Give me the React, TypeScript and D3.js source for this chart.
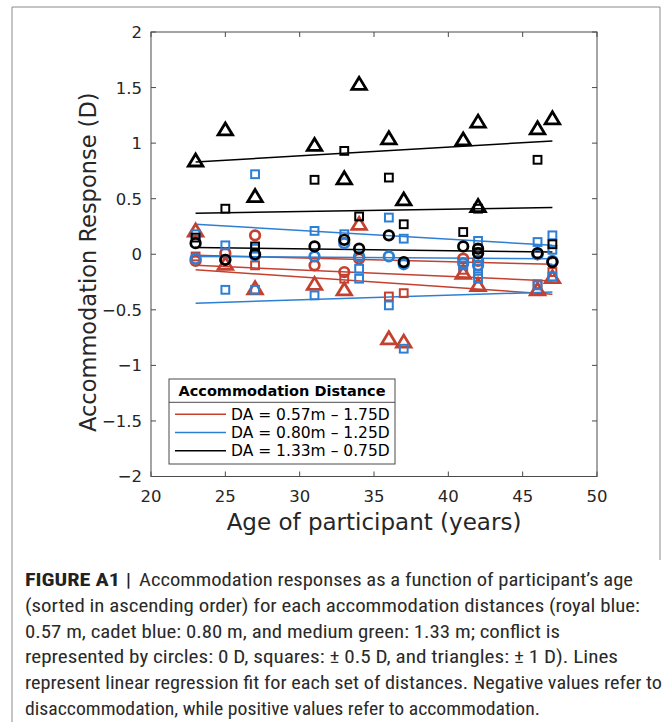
import React from 'react';
import * as d3 from 'd3';

// ---------- data ----------
const xTicks = [20, 25, 30, 35, 40, 45, 50];
const yTicks = [-2, -1.5, -1, -0.5, 0, 0.5, 1, 1.5, 2];

const legendTitle = 'Accommodation Distance';
const distanceLabels = ['DA = 0.57m – 1.75D', 'DA = 0.80m – 1.25D', 'DA = 1.33m – 0.75D'];

// [age, response (D)]
const redCircles: [number, number][] = [
  [23, -0.06], [25, 0.01], [27, 0.17], [31, -0.1], [33, -0.16], [34, -0.04],
  [41, -0.04], [42, -0.06], [46, 0.0], [47, -0.07],
];
const redSquares: [number, number][] = [
  [23, -0.02], [27, -0.1], [33, -0.22], [36, -0.38], [37, -0.35],
  [41, -0.14], [42, -0.18], [46, -0.27], [47, -0.16],
];
const redTriangles: [number, number][] = [
  [23, 0.2], [25, -0.1], [27, -0.32], [31, -0.28], [33, -0.33], [34, 0.26],
  [36, -0.77], [37, -0.8], [41, -0.18], [42, -0.29], [46, -0.33], [47, -0.22],
];

const blueCircles: [number, number][] = [
  [23, -0.04], [25, -0.05], [27, -0.01], [31, -0.02], [33, 0.1], [34, -0.02],
  [36, -0.02], [37, -0.09], [41, -0.08], [42, -0.1], [46, 0.0], [47, -0.06],
];
const blueSquares: [number, number][] = [
  [23, 0.18], [25, 0.08], [25, -0.32], [27, 0.72], [27, 0.05], [27, -0.32],
  [31, 0.21], [31, -0.37], [33, 0.18], [34, -0.13], [34, -0.22],
  [36, 0.33], [36, -0.46], [37, 0.14], [37, -0.85], [41, -0.1],
  [42, 0.12], [42, 0.02], [42, -0.06], [42, -0.13], [42, -0.22],
  [46, 0.11], [46, -0.28], [47, 0.17], [47, 0.04], [47, -0.2],
];

const blackCircles: [number, number][] = [
  [23, 0.1], [25, -0.05], [27, 0.0], [31, 0.07], [33, 0.13], [34, 0.05],
  [36, 0.17], [37, -0.07], [41, 0.07], [42, 0.05], [42, 0.01], [46, 0.01], [47, -0.07],
];
const blackSquares: [number, number][] = [
  [23, 0.15], [25, 0.41], [27, 0.07], [31, 0.67], [33, 0.93], [34, 0.34],
  [36, 0.69], [37, 0.27], [41, 0.2], [42, 0.41], [46, 0.85], [47, 0.09],
];
const blackTriangles: [number, number][] = [
  [23, 0.83], [25, 1.11], [27, 0.51], [31, 0.97], [33, 0.67], [34, 1.52],
  [36, 1.03], [37, 0.48], [41, 1.02], [42, 1.18], [42, 0.42], [46, 1.12], [47, 1.21],
];

// regression fits: value at first and last age
const fitAges = [23, 47];
const redFitStart = [-0.01, -0.1, -0.14];
const redFitEnd = [-0.09, -0.24, -0.36];
const blueFitStart = [0.27, -0.02, -0.44];
const blueFitEnd = [0.08, -0.04, -0.34];
const blackFitStart = [0.83, 0.37, 0.06];
const blackFitEnd = [1.02, 0.42, 0.02];

const captionBold = 'FIGURE A1';
const captionLines = [
  'Accommodation responses as a function of participant’s age',
  '(sorted in ascending order) for each accommodation distances (royal blue:',
  '0.57 m, cadet blue: 0.80 m, and medium green: 1.33 m; conflict is',
  'represented by circles: 0 D, squares: ± 0.5 D, and triangles: ± 1 D). Lines',
  'represent linear regression fit for each set of distances. Negative values refer to',
  'disaccommodation, while positive values refer to accommodation.',
];

// ---------- style ----------
const RED = '#c4402f';
const BLUE = '#2d7fd4';
const BLACK = '#000000';
const AXIS = '#4a4a4a';
const FONT = '"DejaVu Sans", sans-serif';
const CAP_FONT = '"Liberation Sans Narrow", "Roboto Condensed", Roboto, "Liberation Sans", sans-serif';

const W = 672;
const H = 722;
const L = 151, R = 597, T = 32, B = 476.5;

const x = d3.scaleLinear().domain([20, 50]).range([L, R]);
const y = d3.scaleLinear().domain([-2, 2]).range([B, T]);

const fmt = (v: number) => (v < 0 ? '−' + String(Math.abs(v)) : String(v));

function tri(cx: number, cy: number, w: number, h: number) {
  return `M${cx},${cy - (h * 2) / 3}L${cx - w / 2},${cy + h / 3}L${cx + w / 2},${cy + h / 3}Z`;
}

function Markers({ pts, kind, color }: { pts: [number, number][]; kind: string; color: string }) {
  return (
    <g>
      {pts.map(([a, v], i) => {
        const cx = x(a), cy = y(v);
        if (kind === 'circle')
          return <circle key={i} cx={cx} cy={cy} r={4.8} fill="none" stroke={color} strokeWidth={2.7} />;
        if (kind === 'square')
          return <rect key={i} x={cx - 3.9} y={cy - 3.9} width={7.8} height={7.8} fill="none" stroke={color} strokeWidth={2} />;
        return <path key={i} d={tri(cx, cy, 14.5, 12)} fill="none" stroke={color} strokeWidth={2.8} strokeLinejoin="miter" />;
      })}
    </g>
  );
}

function Fits({ start, end, color }: { start: number[]; end: number[]; color: string }) {
  const line = d3.line<[number, number]>().x((d) => x(d[0])).y((d) => y(d[1]));
  return (
    <g>
      {start.map((s, i) => (
        <path key={i} d={line([[fitAges[0], s], [fitAges[1], end[i]]]) || ''} stroke={color} strokeWidth={1.5} fill="none" />
      ))}
    </g>
  );
}

export default function App() {
  const capX = 25;
  const capBase = [586, 612, 638, 663, 689, 715];
  const capEnds = [633, 640, 560, 618, 662, 540];
  const legX = 169, legY = 379, legW = 226, legH = 85;
  const colors = [RED, BLUE, BLACK];
  return (
    <svg width={W} height={H} style={{ position: 'absolute', left: 0, top: 0, background: '#fff' }}>
      <rect x={0} y={0} width={W} height={H} fill="#fff" />
      {/* outer frame */}
      <path d="M12,722V7H660V560" fill="none" stroke="#8a8a8a" strokeWidth={1} />

      {/* axes box */}
      <rect x={L} y={T} width={R - L} height={B - T} fill="#fff" stroke={AXIS} strokeWidth={1} />
      {xTicks.map((t) => (
        <g key={'xt' + t}>
          <line x1={x(t)} x2={x(t)} y1={B} y2={B - 5} stroke={AXIS} />
          <line x1={x(t)} x2={x(t)} y1={T} y2={T + 5} stroke={AXIS} />
          <text x={x(t)} y={502} fontSize={16.5} fontFamily={FONT} textAnchor="middle" fill="#262626">
            {fmt(t)}
          </text>
        </g>
      ))}
      {yTicks.map((t) => (
        <g key={'yt' + t}>
          <line x1={L} x2={L + 5} y1={y(t)} y2={y(t)} stroke={AXIS} />
          <line x1={R} x2={R - 5} y1={y(t)} y2={y(t)} stroke={AXIS} />
          <text x={142} y={y(t)} dy="0.36em" fontSize={16.5} fontFamily={FONT} textAnchor="end" fill="#262626">
            {fmt(t)}
          </text>
        </g>
      ))}
      <text x={(L + R) / 2} y={530} fontSize={23} fontFamily={FONT} textAnchor="middle" fill="#262626">
        Age of participant (years)
      </text>
      <text
        transform={`translate(96,${(T + B) / 2 + 8}) rotate(-90)`}
        fontSize={22.5}
        fontFamily={FONT}
        textAnchor="middle"
        fill="#262626"
      >
        Accommodation Response (D)
      </text>

      {/* fits */}
      <Fits start={redFitStart} end={redFitEnd} color={RED} />
      <Fits start={blueFitStart} end={blueFitEnd} color={BLUE} />
      <Fits start={blackFitStart} end={blackFitEnd} color={BLACK} />

      {/* markers */}
      <Markers pts={redCircles} kind="circle" color={RED} />
      <Markers pts={redSquares} kind="square" color={RED} />
      <Markers pts={redTriangles} kind="triangle" color={RED} />
      <Markers pts={blueCircles} kind="circle" color={BLUE} />
      <Markers pts={blueSquares} kind="square" color={BLUE} />
      <Markers pts={blackCircles} kind="circle" color={BLACK} />
      <Markers pts={blackSquares} kind="square" color={BLACK} />
      <Markers pts={blackTriangles} kind="triangle" color={BLACK} />

      {/* legend */}
      <rect x={legX} y={legY} width={legW} height={legH} fill="#fff" stroke={AXIS} strokeWidth={1} />
      <line x1={legX} x2={legX + legW} y1={402.3} y2={402.3} stroke={AXIS} strokeWidth={1} />
      <text x={legX + legW / 2} y={391} dy="0.36em" fontSize={14.5} fontWeight="bold" fontFamily={FONT} textAnchor="middle" fill="#000">
        {legendTitle}
      </text>
      {distanceLabels.map((lab, i) => {
        const cy = 414.3 + i * 18.2;
        return (
          <g key={lab}>
            <line x1={175} x2={226} y1={cy} y2={cy} stroke={colors[i]} strokeWidth={1.5} />
            <text x={231} y={cy} dy="0.36em" fontSize={15.5} fontFamily={FONT} fill="#000">
              {lab}
            </text>
          </g>
        );
      })}

      {/* caption */}
      <text x={capX} y={capBase[0]} fontSize={19} fontWeight="bold" fontFamily={CAP_FONT} fill="#222" textLength={95} lengthAdjust="spacingAndGlyphs">
        {captionBold}
      </text>
      <text x={126} y={capBase[0]} fontSize={19} fontWeight="bold" fontFamily={CAP_FONT} fill="#222">
        |
      </text>
      {captionLines.map((ln, i) => {
        const sx = i === 0 ? 139 : capX;
        return (
          <text
            key={i}
            x={sx}
            y={capBase[i]}
            fontSize={19}
            fontFamily={CAP_FONT}
            fill="#2a2a2a"
            textLength={capEnds[i] - sx}
            lengthAdjust="spacingAndGlyphs"
          >
            {ln}
          </text>
        );
      })}
    </svg>
  );
}
